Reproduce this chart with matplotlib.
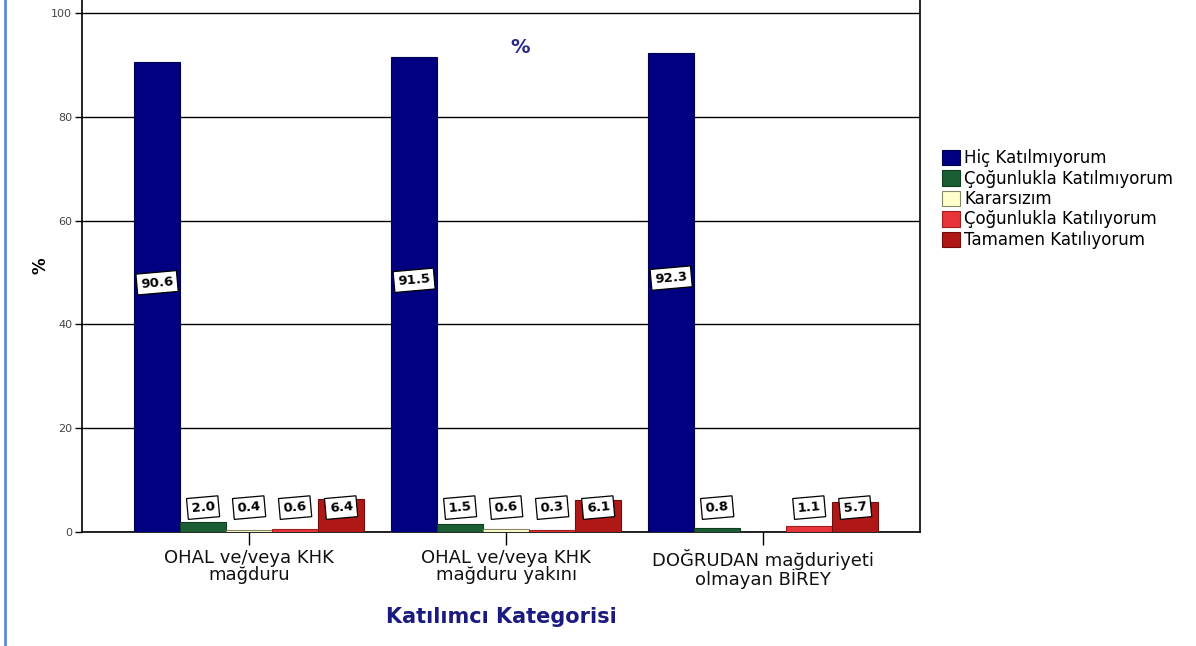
import numpy as np
import matplotlib
matplotlib.use("Agg")
import matplotlib.pyplot as plt
from matplotlib.lines import Line2D

plt.rcParams["font.family"] = ["DejaVu Sans"]

categories = ["OHAL ve/veya KHK\nmağduru",
              "OHAL ve/veya KHK\nmağduru yakını",
              "DOĞRUDAN mağduriyeti\nolmayan BİREY"]
series_names = ["Hiç Katılmıyorum", "Çoğunlukla Katılmıyorum", "Kararsızım",
                "Çoğunlukla Katılıyorum", "Tamamen Katılıyorum"]
hic = [90.6, 91.5, 92.3]
cogunlukla_katilmiyorum = [2.0, 1.5, 0.8]
kararsizim = [0.4, 0.6, np.nan]
cogunlukla_katiliyorum = [0.6, 0.3, 1.1]
tamamen = [6.4, 6.1, 5.7]
y_ticks = [0, 20, 40, 60, 80, 100]

series = [hic, cogunlukla_katilmiyorum, kararsizim, cogunlukla_katiliyorum, tamamen]
colors = ["#000080", "#1b5e33", "#ffffcc", "#e8343a", "#b01818"]
edges = ["#000050", "#0f3d20", "#888866", "#a02020", "#700c0c"]

fig = plt.figure(figsize=(11.96, 6.46), dpi=100)
ax = fig.add_axes([82 / 1196, 1 - 532 / 646, (920 - 82) / 1196, 532 / 646])

x = np.arange(len(categories))
width = 0.179
for i, (vals, name) in enumerate(zip(series, series_names)):
    pos = x + (i - 2) * width
    ax.bar(pos, vals, width, color=colors[i], edgecolor=edges[i],
           linewidth=0.8, label=name, zorder=3)
    for px, v in zip(pos, vals):
        if np.isnan(v):
            continue
        # etiketler: büyük çubukta ortada, küçüklerde tabana yakın
        ty = v * 0.53 if v > 20 else 4.7
        ax.text(px, ty, f"{v:.1f}", ha="center", va="center", fontsize=9.5,
                fontweight="bold", rotation=5, zorder=5,
                bbox=dict(boxstyle="square,pad=0.3", fc="white", ec="black", lw=0.9))

ax.set_xlim(-0.65, 2.61)
ax.set_ylim(0, 102.5)
ax.set_yticks(y_ticks)
ax.set_yticklabels([str(t) for t in y_ticks], fontsize=8, color="#444444")
ax.yaxis.grid(True, color="black", linewidth=1.0, zorder=0)
ax.set_axisbelow(True)
ax.set_xticks(x)
ax.set_xticklabels(categories, fontsize=13, color="#111111", linespacing=0.98)
ax.tick_params(axis="x", length=9, width=1, pad=3)
ax.tick_params(axis="y", length=5, width=1, pad=2)
for side in ["left", "right", "bottom"]:
    ax.spines[side].set_linewidth(1.2)
ax.spines["top"].set_visible(False)

ax.set_ylabel("%", fontsize=12, fontweight="bold")
ax.yaxis.set_label_coords(-0.039, 0.5)
ax.set_xlabel("Katılımcı Kategorisi", fontsize=15, fontweight="bold",
              color="#1a1a80", labelpad=13)
ax.text(0.523, 0.91, "%", transform=ax.transAxes, ha="center", va="center",
        fontsize=14, fontweight="bold", color="#2a2a8a")

ax.legend(loc="upper left", bbox_to_anchor=(942 / 1196, 1 - 149 / 646),
          bbox_transform=fig.transFigure, frameon=False, fontsize=12,
          handlelength=1.05, handleheight=1.05, handletextpad=0.3,
          labelspacing=0.15, borderaxespad=0, borderpad=0)

fig.add_artist(Line2D([5 / 1196, 5 / 1196], [0, 1], color="#5b8bd6", linewidth=2))

fig.savefig("out.png", dpi=100)
